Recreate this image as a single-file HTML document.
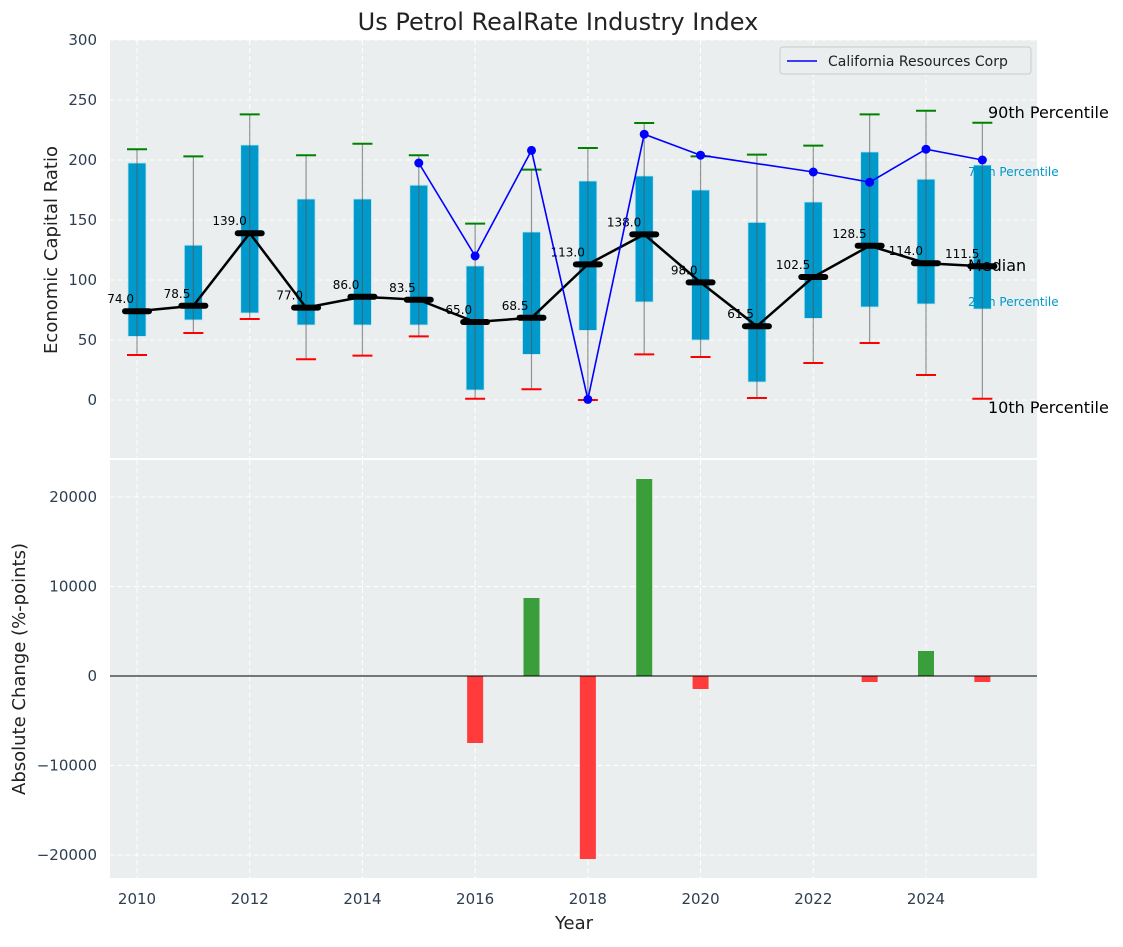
<!DOCTYPE html>
<html><head><meta charset="utf-8"><style>
body{margin:0;background:#fff;font-family:"Liberation Sans","DejaVu Sans",sans-serif}
svg text{font-family:"DejaVu Sans","Liberation Sans",sans-serif}
</style></head><body>
<svg id="c" width="1123" height="942" xmlns="http://www.w3.org/2000/svg"></svg>
<script>
const years=[2010,2011,2012,2013,2014,2015,2016,2017,2018,2019,2020,2021,2022,2023,2024,2025];
const q1=[53,66.7,72.5,62.5,62.5,62.5,8.3,38,58,81.7,50,15,68,77.5,80,75.8];
const q3=[197.5,129,212.5,167.5,167.5,179,111.7,140,182.5,186.7,175,148,165,206.7,184,195.8];
const p10=[37.5,55.8,67.5,34,37,53,1,9,0,38,35.8,1.7,30.8,47.5,20.8,1];
const p90=[209,203,238,204,213.5,204,147,192,210,230.8,203,204.5,212,238,241,231];
const medians=[74,78.5,139,77,86,83.5,65,68.5,113,138,98,61.5,102.5,128.5,114,111.5];
const crc=[null,null,null,null,null,197.5,120,208,0.5,221.5,204,null,190,181.5,209,200];
const changes=[0,0,0,0,0,0,-7486,8715,-20447,22011,-1452,0,0,-670,2793,-670];
const yTicksTop=[0,50,100,150,200,250,300];
const yTicksBot=[-20000,-10000,0,10000,20000];
const xTicks=[2010,2012,2014,2016,2018,2020,2022,2024];

const svg=document.getElementById('c');const NS='http://www.w3.org/2000/svg';
function el(t,a,txt){const e=document.createElementNS(NS,t);for(const k in a)e.setAttribute(k,a[k]);if(txt!==undefined)e.textContent=txt;svg.appendChild(e);return e;}
const X=v=>137+(v-2010)*56.357;
const Y1=v=>400-v*1.2;
const Y2=v=>676-v*0.00895;
const L=110,R=1037;
let e;
e=el('rect',{x:L,y:40,width:R-L,height:418,fill:'#eaeeee'});
e=el('rect',{x:L,y:460,width:R-L,height:418,fill:'#eaeeee'});
for(const t of yTicksTop){el('line',{x1:L,x2:R,y1:Y1(t),y2:Y1(t),stroke:'#fff','stroke-dasharray':'5,3','stroke-width':1});
e=el('text',{x:97,y:Y1(t)+5,'text-anchor':'end','font-size':15,fill:'#2d3e50'},t);}
for(const t of yTicksBot){el('line',{x1:L,x2:R,y1:Y2(t),y2:Y2(t),stroke:'#fff','stroke-dasharray':'5,3','stroke-width':1});
e=el('text',{x:97,y:Y2(t)+5,'text-anchor':'end','font-size':15,fill:'#2d3e50'},t<0?'\u2212'+(-t):t);}
for(const t of xTicks){el('line',{x1:X(t),x2:X(t),y1:40,y2:458,stroke:'#fff','stroke-dasharray':'5,3'});el('line',{x1:X(t),x2:X(t),y1:460,y2:878,stroke:'#fff','stroke-dasharray':'5,3'});
e=el('text',{x:X(t),y:904,'text-anchor':'middle','font-size':15,fill:'#2d3e50'},t);}
years.forEach((yr,i)=>{const x=X(yr);
e=el('rect',{x:x-9,y:Y1(q3[i]),width:18,height:Y1(q1[i])-Y1(q3[i]),fill:'#0099cc',stroke:'#bfe6f2','stroke-width':0.8});
e=el('line',{x1:x,x2:x,y1:Y1(p90[i]),y2:Y1(p10[i]),stroke:'#555','stroke-opacity':0.6,'stroke-width':1.2});
e=el('line',{x1:x-10,x2:x+10,y1:Y1(p90[i]),y2:Y1(p90[i]),stroke:'green','stroke-width':2});
e=el('line',{x1:x-10,x2:x+10,y1:Y1(p10[i]),y2:Y1(p10[i]),stroke:'red','stroke-width':2});
});
e=el('polyline',{points:years.map((y,i)=>X(y)+','+Y1(medians[i])).join(' '),fill:'none',stroke:'#000','stroke-width':2.5});
years.forEach((yr,i)=>{const x=X(yr);
e=el('line',{x1:x-12,x2:x+12,y1:Y1(medians[i]),y2:Y1(medians[i]),stroke:'#000','stroke-width':6,'stroke-linecap':'round'});
e=el('text',{x:x-3,y:Y1(medians[i])-8,'text-anchor':'end','font-size':12,fill:'#000'},medians[i].toFixed(1));});
const pts=[];years.forEach((y,i)=>{if(crc[i]!==null)pts.push([X(y),Y1(crc[i])]);});
e=el('polyline',{points:pts.map(p=>p.join(',')).join(' '),fill:'none',stroke:'#0000ff','stroke-width':1.6});
pts.forEach(p=>{e=el('circle',{cx:p[0],cy:p[1],r:4.5,fill:'#0000ff'});});
const rl=[['90th Percentile',988,118,16,'#000'],['75th Percentile',968,176,12,'#0099cc'],['Median',968,271,16,'#000'],['25th Percentile',968,306,12,'#0099cc'],['10th Percentile',988,413,16,'#000']];
rl.forEach(r=>{e=el('text',{x:r[1],y:r[2],'font-size':r[3],fill:r[4]},r[0]);});
e=el('rect',{x:780,y:47,width:251,height:27,fill:'#eaeeee',stroke:'#ccc',rx:3});
el('line',{x1:787,x2:817,y1:61,y2:61,stroke:'#0000ff','stroke-width':1.6});
e=el('text',{x:828,y:66,'font-size':14,fill:'#222'},'California Resources Corp');
years.forEach((yr,i)=>{const v=changes[i];if(!v)return;const x=X(yr);
e=el('rect',{x:x-8,y:Math.min(Y2(v),Y2(0)),width:16,height:Math.abs(Y2(v)-Y2(0)),fill:v>0?'#3a9e3a':'#ff3b3b'});});
el('line',{x1:L,x2:R,y1:Y2(0),y2:Y2(0),stroke:'#000','stroke-width':1});
e=el('text',{x:558,y:30,'text-anchor':'middle','font-size':24,fill:'#222'},'Us Petrol RealRate Industry Index');
e=el('text',{x:0,y:0,'text-anchor':'middle','font-size':18,fill:'#222',transform:'translate(57,250) rotate(-90)'},'Economic Capital Ratio');
e=el('text',{x:0,y:0,'text-anchor':'middle','font-size':18,fill:'#222',transform:'translate(25,669) rotate(-90)'},'Absolute Change (%-points)');
e=el('text',{x:574,y:929,'text-anchor':'middle','font-size':18,fill:'#222'},'Year');
</script>
</body></html>
